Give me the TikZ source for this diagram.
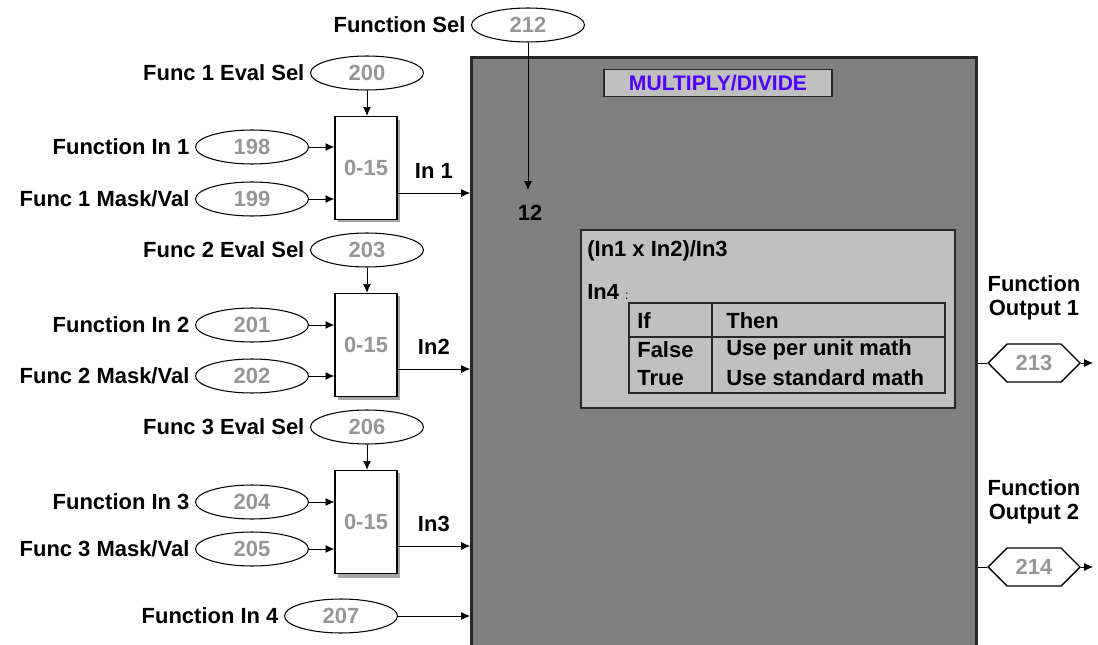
\documentclass[tikz,border=0pt]{standalone}
\usepackage{fontspec}
\setmainfont{Liberation Sans}
\usepackage{tikz}
\usetikzlibrary{positioning, shapes.geometric, shapes.symbols, arrows.meta}
\definecolor{blkgray}{RGB}{128,128,128}
\definecolor{panelgray}{RGB}{192,192,192}
\definecolor{numgray}{RGB}{150,150,150}
\definecolor{titleblue}{RGB}{80,0,255}
\definecolor{shadowgray}{RGB}{165,165,165}
\definecolor{edgegray}{RGB}{40,40,40}

\begin{document}
\begin{tikzpicture}[x=0.02cm, y=-0.02cm, >={Latex[length=5pt,width=4.5pt]},
  font=\fontsize{12.5}{13.6}\selectfont\bfseries,
  val node/.style={ellipse, draw, line width=0.6pt, minimum width=2.26cm,
    minimum height=0.68cm, inner sep=0pt, text=numgray},
  lbl node/.style={inner sep=0pt},
  mux node/.style={rectangle, draw, fill=white, line width=0.8pt,
    minimum width=1.24cm, minimum height=2.06cm, text=numgray},
  out node/.style={signal, signal to=east and west, draw, line width=0.8pt,
    minimum width=1.84cm, minimum height=0.76cm, inner sep=0pt, text=numgray},
  panel node/.style={draw=edgegray, fill=panelgray, line width=1pt, inner sep=0pt}]

\useasboundingbox (0,0) rectangle (1098,645);

% main block
\node[draw=edgegray, fill=blkgray, line width=1.6pt, anchor=north west, inner sep=0pt,
  minimum width=10.1cm, minimum height=12cm] (md) at (470,56) {};
\node[panel node, minimum width=4.56cm, minimum height=0.54cm, text=titleblue,
  font=\fontsize{12}{13}\selectfont\bfseries] (ttl) at (718,83) {MULTIPLY/DIVIDE};
\node[panel node, minimum width=7.48cm, minimum height=3.56cm] (pnl) at (768,319) {};

\node[lbl node, anchor=west] (frm) at (587,251) {(In1 x In2)/In3};
\node[lbl node, anchor=west] (in4) at (587,292) {In4 {\normalfont\scriptsize :}};

% truth table
\draw[line width=1pt, edgegray] (629,303) rectangle (945,393);
\draw[line width=1pt, edgegray] (712,303) -- (712,393);
\draw[line width=1pt, edgegray] (629,337) -- (945,337);
\node[lbl node, anchor=west] (tif) at (637,321) {If};
\node[lbl node, anchor=west] (tthen) at (726,321) {Then};
\node[lbl node, anchor=west] (tfalse) at (637,350) {False};
\node[lbl node, anchor=west] (tpu) at (726,350) {Use per unit math};
\node[lbl node, anchor=west] (ttrue) at (637,378) {True};
\node[lbl node, anchor=west] (tstd) at (726,378) {Use standard math};

% function select
\node[val node] (sel) at (528,25) {212};
\node[lbl node, left=3pt of sel] {Function Sel};
\coordinate (selend) at (528,190);
\draw[->] (sel.south) -- (selend);
\node[lbl node] (n12) at (530,213) {12};

% input 1
\fill[shadowgray] (338,120) rectangle (400,222);
\node[mux node] (mux1) at (366,168) {0-15};
\node[val node] (ev1) at (367,73) {200};
\node[lbl node, left=3pt of ev1] {Func 1 Eval Sel};
\node[val node] (in1) at (252,147) {198};
\node[lbl node, left=3pt of in1] {Function In 1};
\node[val node] (mk1) at (252,199) {199};
\node[lbl node, left=3pt of mk1] {Func 1 Mask/Val};
\draw[->] (ev1.south) -- (ev1.south |- mux1.north);
\draw[->] (in1.east) -- (in1.east -| mux1.west);
\draw[->] (mk1.east) -- (mk1.east -| mux1.west);
\coordinate (o1) at ([yshift=-0.5cm]mux1.east);
\draw[->] (o1) -- node[lbl node, above=8pt] {In 1} (o1 -| md.west);

% input 2
\fill[shadowgray] (338,296) rectangle (400,400);
\node[mux node] (mux2) at (366,345) {0-15};
\node[val node] (ev2) at (367,250) {203};
\node[lbl node, left=3pt of ev2] {Func 2 Eval Sel};
\node[val node] (in2) at (252,325) {201};
\node[lbl node, left=3pt of in2] {Function In 2};
\node[val node] (mk2) at (252,376) {202};
\node[lbl node, left=3pt of mk2] {Func 2 Mask/Val};
\draw[->] (ev2.south) -- (ev2.south |- mux2.north);
\draw[->] (in2.east) -- (in2.east -| mux2.west);
\draw[->] (mk2.east) -- (mk2.east -| mux2.west);
\coordinate (o2) at ([yshift=-0.48cm]mux2.east);
\draw[->] (o2) -- node[lbl node, above=8pt] {In2} (o2 -| md.west);

% input 3
\fill[shadowgray] (338,473) rectangle (400,578);
\node[mux node] (mux3) at (366,522) {0-15};
\node[val node] (ev3) at (367,427) {206};
\node[lbl node, left=3pt of ev3] {Func 3 Eval Sel};
\node[val node] (in3) at (252,502) {204};
\node[lbl node, left=3pt of in3] {Function In 3};
\node[val node] (mk3) at (252,549) {205};
\node[lbl node, left=3pt of mk3] {Func 3 Mask/Val};
\draw[->] (ev3.south) -- (ev3.south |- mux3.north);
\draw[->] (in3.east) -- (in3.east -| mux3.west);
\draw[->] (mk3.east) -- (mk3.east -| mux3.west);
\coordinate (o3) at ([yshift=-0.48cm]mux3.east);
\draw[->] (o3) -- node[lbl node, above=8pt] {In3} (o3 -| md.west);

% input 4
\node[val node] (in4v) at (341,616) {207};
\node[lbl node, left=3pt of in4v] {Function In 4};
\draw[->] (in4v.east) -- (in4v.east -| md.west);

% outputs
\node[out node] (out1) at (1034,363) {213};
\node[lbl node, align=center, above=13pt of out1] {Function\\Output 1};
\draw (out1.west -| md.east) -- (out1.west);
\coordinate (oe1) at (1093,363);
\draw[->] (out1.east) -- (oe1);

\node[out node] (out2) at (1034,567) {214};
\node[lbl node, align=center, above=13pt of out2] {Function\\Output 2};
\draw (out2.west -| md.east) -- (out2.west);
\coordinate (oe2) at (1093,567);
\draw[->] (out2.east) -- (oe2);

\end{tikzpicture}
\end{document}
